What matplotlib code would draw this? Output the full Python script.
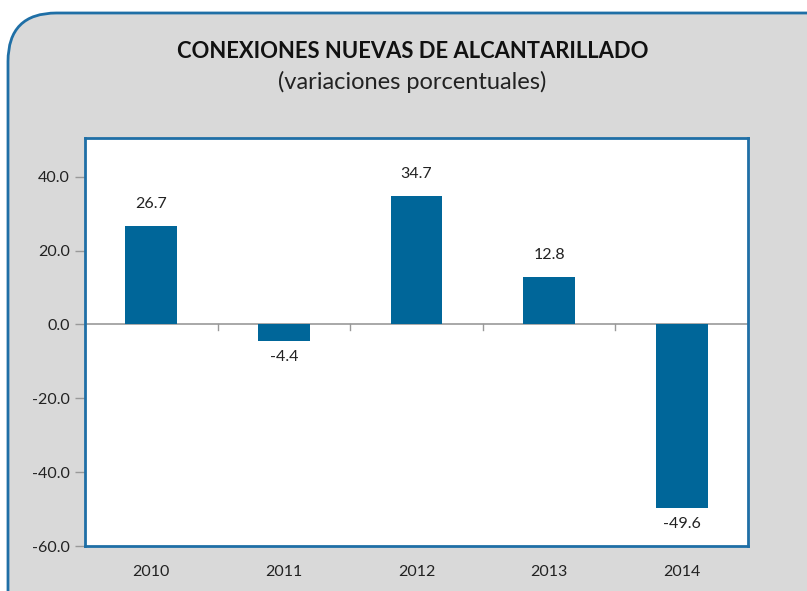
import matplotlib.pyplot as plt
from matplotlib.patches import FancyBboxPatch

plt.rcParams['font.family'] = ['Lato', 'DejaVu Sans']

years = ['2010', '2011', '2012', '2013', '2014']
values = [26.7, -4.4, 34.7, 12.8, -49.6]
yticks = [40, 20, 0, -20, -40, -60]

bar_color = '#006699'
frame_color = '#1f6fa6'

fig = plt.figure(figsize=(8.07, 5.91), dpi=100)
fig.patch.set_facecolor('white')

# rounded gray panel (runs off the right and bottom edges)
panel = FancyBboxPatch((8 / 807, -0.2), 1.2, 1 - 13 / 591 + 0.2,
                       boxstyle='round,pad=0,rounding_size=0.06',
                       transform=fig.transFigure, facecolor='#d9d9d9',
                       edgecolor=frame_color, linewidth=2, mutation_aspect=807 / 591,
                       zorder=-5)
fig.patches.append(panel)

fig.text(0.511, 0.913, 'CONEXIONES NUEVAS DE ALCANTARILLADO', ha='center', va='center',
         fontsize=15.8, fontweight='bold', color='#111111')
fig.text(0.511, 0.862, '(variaciones porcentuales)', ha='center', va='center',
         fontsize=17, color='#222222')

ax = fig.add_axes([85 / 807, 45 / 591, 663 / 807, 408 / 591])
ax.set_zorder(2)
ax.set_facecolor('white')
x = range(len(years))
ax.bar(x, values, width=0.39, color=bar_color, zorder=3)

for i, v in enumerate(values):
    off = 16 if v >= 0 else -12
    ax.annotate(f'{v:.1f}', (i, v), xytext=(0, off), textcoords='offset points',
                ha='center', va='center', fontsize=11.5, color='#222222')

ax.set_xlim(-0.5, len(years) - 0.5)
ax.set_ylim(-60, 50.5)
ax.set_yticks(yticks)
ax.set_yticklabels([f'{t:.1f}' for t in yticks])
ax.set_xticks(list(x))
ax.set_xticklabels(years)
ax.tick_params(axis='x', length=0, pad=14, labelsize=11.5, colors='#222222')
ax.tick_params(axis='y', length=7, width=1, color='#999999', labelsize=11.5,
               labelcolor='#222222', pad=4)

# zero line with category separators
ax.axhline(0, color='#999999', linewidth=1.2, zorder=2)
for b in range(1, len(years)):
    ax.plot([b - 0.5, b - 0.5], [0, -1.6], color='#999999', linewidth=1, zorder=2)

for s in ax.spines.values():
    s.set_color(frame_color)
    s.set_linewidth(2)

fig.savefig('out.png', dpi=100)
